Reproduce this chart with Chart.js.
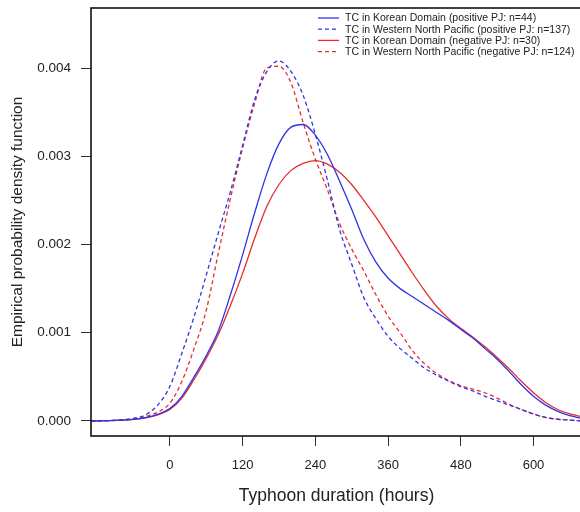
<!DOCTYPE html>
<html>
<head>
<meta charset="utf-8">
<script src="https://cdn.jsdelivr.net/npm/chart.js@4.4.0/dist/chart.umd.min.js"></script>
<style>
  html, body { margin: 0; padding: 0; background: #fff; overflow: hidden; }
  #wrap { width: 600px; height: 512px; position: relative; }
</style>
</head>
<body>
<div id="wrap"><canvas id="chart"></canvas></div>
<script>
var hours = [-130, -100, -80, -60, -40, -20, 0, 20, 40, 60, 80, 100, 120, 140, 160, 180, 200, 220, 240, 260,
  280, 300, 320, 340, 360, 380, 400, 420, 440, 460, 480, 500, 520, 540, 560, 580, 600, 620, 640, 660, 680];

// TC in Korean Domain (positive PJ)
var kdPos = [0, 0.000004, 0.000009, 0.000018, 0.000038, 0.000075, 0.00014, 0.00028, 0.00050, 0.00074,
  0.00102, 0.00143, 0.00188, 0.00236, 0.00280, 0.00314, 0.00333, 0.00336, 0.00324, 0.00302,
  0.00272, 0.00240, 0.00206, 0.00180, 0.00162, 0.00150, 0.00141, 0.00132, 0.00123, 0.00114,
  0.00104, 0.00094, 0.00082, 0.00070, 0.00056, 0.00041, 0.00028, 0.00018, 0.00011, 0.00006, 0.00003];

// TC in Western North Pacific (positive PJ)
var wnpPos = [0, 0.000005, 0.000012, 0.00003, 0.00007, 0.00018, 0.00039, 0.00077, 0.00118, 0.00165,
  0.00213, 0.00260, 0.00312, 0.00364, 0.00396, 0.00408, 0.00396, 0.00369, 0.00325, 0.00273,
  0.00217, 0.00178, 0.00140, 0.00116, 0.00096, 0.00082, 0.00071, 0.00060, 0.00052, 0.00045,
  0.00039, 0.00034, 0.00028, 0.00023, 0.00018, 0.00013, 0.00008, 0.00004, 0.00002, 0.00001, 0];

// TC in Korean Domain (negative PJ)
var kdNeg = [0, 0.000004, 0.000009, 0.000018, 0.000036, 0.00007, 0.00013, 0.00026, 0.00047, 0.00071,
  0.00098, 0.00131, 0.00167, 0.00207, 0.00243, 0.00268, 0.00284, 0.00292, 0.00295, 0.00291,
  0.00282, 0.00268, 0.00250, 0.00231, 0.00210, 0.00189, 0.00168, 0.00148, 0.00130, 0.00116,
  0.00105, 0.00095, 0.00084, 0.00072, 0.00059, 0.00045, 0.00032, 0.00021, 0.00013, 0.00008, 0.00005];

// TC in Western North Pacific (negative PJ)
var wnpNeg = [0, 0.000004, 0.00001, 0.00002, 0.00005, 0.00010, 0.00020, 0.00045, 0.00082, 0.00125,
  0.00190, 0.00252, 0.00309, 0.00360, 0.00400, 0.00402, 0.00383, 0.00338, 0.00297, 0.00262,
  0.00224, 0.00195, 0.00170, 0.00143, 0.00119, 0.00100, 0.00080, 0.00065, 0.00054, 0.00046,
  0.00040, 0.00036, 0.00032, 0.00026, 0.00019, 0.00013, 0.00008, 0.00004, 0.00002, 0.00001, 0];

var labels = [
  'TC in Korean Domain (positive PJ: n=44)',
  'TC in Western North Pacific (positive PJ: n=137)',
  'TC in Korean Domain (negative PJ: n=30)',
  'TC in Western North Pacific (negative PJ: n=124)'
];

var xTicks = [0, 120, 240, 360, 480, 600];
var yTicks = [0, 0.001, 0.002, 0.003, 0.004];

var blue = 'rgb(50, 50, 225)', red = 'rgb(228, 45, 45)';
var font = '"Liberation Sans", Arial, sans-serif';

var toPoints = (ys) => ys.map((y, i) => ({ x: hours[i], y: y }));

var line = (label, ys, color, dash) => ({
  label: label,
  data: toPoints(ys),
  borderColor: color,
  borderWidth: 1.3,
  borderDash: dash,
  pointRadius: 0,
  cubicInterpolationMode: 'monotone',
  fill: false
});

var boxAndLegend = {
  id: 'boxAndLegend',
  afterDraw: function (chart) {
    var ctx = chart.ctx, a = chart.chartArea;
    ctx.save();
    ctx.strokeStyle = '#111';
    ctx.lineWidth = 1.6;
    ctx.strokeRect(a.left, a.top, a.right - a.left, a.bottom - a.top);

    ctx.font = '10.5px ' + font;
    ctx.textBaseline = 'middle';
    ctx.fillStyle = '#222';
    chart.data.datasets.forEach(function (ds, i) {
      var y = 18 + i * 11.2;
      ctx.beginPath();
      ctx.strokeStyle = ds.borderColor;
      ctx.lineWidth = 1.3;
      ctx.setLineDash(ds.borderDash);
      ctx.moveTo(318, y);
      ctx.lineTo(339, y);
      ctx.stroke();
      ctx.setLineDash([]);
      ctx.fillText(ds.label, 345, y + 0.5);
    });
    ctx.restore();
  }
};

new Chart(document.getElementById('chart').getContext('2d'), {
  type: 'line',
  data: {
    datasets: [
      line(labels[0], kdPos, blue, []),
      line(labels[1], wnpPos, blue, [4, 3]),
      line(labels[2], kdNeg, red, []),
      line(labels[3], wnpNeg, red, [4, 3])
    ]
  },
  options: {
    responsive: true,
    maintainAspectRatio: false,
    animation: false,
    layout: { padding: { top: 0, right: 18, left: 0, bottom: 0 } },
    plugins: { legend: { display: false }, tooltip: { enabled: false } },
    scales: {
      x: {
        type: 'linear',
        min: -130,
        max: 680,
        afterFit: (s) => { s.height = 76; s.paddingLeft = 0; s.paddingRight = 0; },
        afterBuildTicks: (s) => { s.ticks = xTicks.map(v => ({ value: v })); },
        grid: { drawOnChartArea: false, drawTicks: true, tickLength: 10, color: '#333', lineWidth: 1 },
        border: { display: false },
        ticks: { padding: 12, color: '#222', font: { family: font, size: 13 }, maxRotation: 0 },
        title: { display: true, text: 'Typhoon duration (hours)', color: '#222',
          font: { family: font, size: 17.5 }, padding: { top: 0, bottom: 5 } }
      },
      y: {
        min: -0.00017,
        max: 0.00468,
        afterFit: (s) => { s.width = 91; s.paddingTop = 8; s.paddingBottom = 0; },
        afterBuildTicks: (s) => { s.ticks = yTicks.map(v => ({ value: v })); },
        grid: { drawOnChartArea: false, drawTicks: true, tickLength: 10, color: '#333', lineWidth: 1 },
        border: { display: false },
        ticks: { padding: 10, color: '#222', font: { family: font, size: 13.5 },
          callback: (v) => v.toFixed(3) },
        title: { display: true, text: 'Empirical probability density function', color: '#222',
          font: { family: font, size: 15.5 }, padding: { top: 8, bottom: 0 } }
      }
    }
  },
  plugins: [boxAndLegend]
});
</script>
</body>
</html>
